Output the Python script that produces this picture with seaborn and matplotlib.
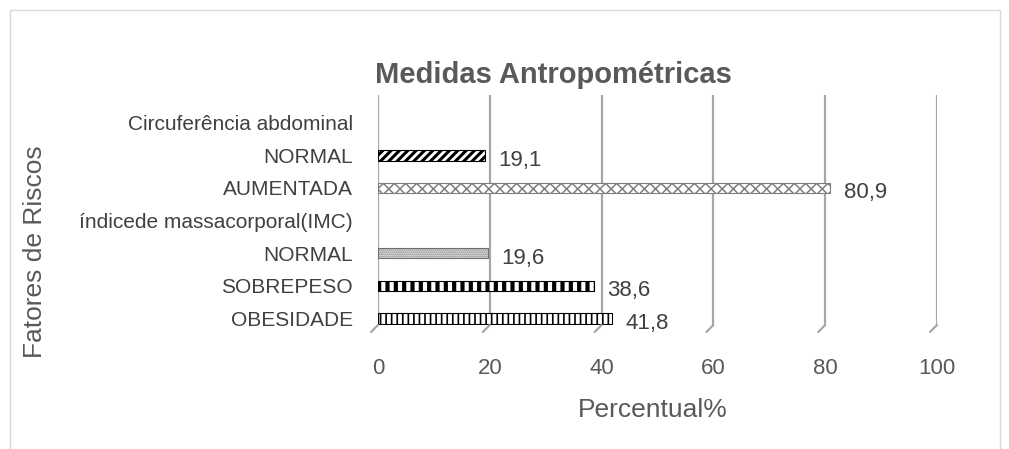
import matplotlib
matplotlib.use("Agg")
import matplotlib.pyplot as plt
from matplotlib.patches import Rectangle
import seaborn as sns
import pandas as pd

# rows from top to bottom; header rows have no bar
row_keys = ["abd", "abd_normal", "abd_aumentada", "imc", "imc_normal", "imc_sobrepeso", "imc_obesidade"]
row_labels = ["Circuferência abdominal", "NORMAL", "AUMENTADA", "índicede massacorporal(IMC)",
              "NORMAL", "SOBREPESO", "OBESIDADE"]
bar_keys = ["abd_normal", "abd_aumentada", "imc_normal", "imc_sobrepeso", "imc_obesidade"]
bar_values = [19.1, 80.9, 19.6, 38.6, 41.8]
value_labels = ["19,1", "80,9", "19,6", "38,6", "41,8"]
x_ticks = [0, 20, 40, 60, 80, 100]

sns.set_style("white")
plt.rcParams["font.family"] = ["Liberation Sans", "DejaVu Sans"]
plt.rcParams["hatch.linewidth"] = 1.6

df = pd.DataFrame({"key": bar_keys, "valor": bar_values})

fig = plt.figure(figsize=(10.09, 4.49), dpi=100)
ax = fig.add_axes([378 / 1009, 1 - 325 / 449, 559 / 1009, 230 / 449])

sns.barplot(data=df, x="valor", y="key", order=row_keys, color="white",
            width=0.32, ax=ax, zorder=3)

hatches = {"abd_normal": "////", "abd_aumentada": "xxx", "imc_normal": "........",
           "imc_sobrepeso": "||", "imc_obesidade": "|||"}
edges = {"abd_normal": "black", "abd_aumentada": "#7f7f7f", "imc_normal": "#6f6f6f",
         "imc_sobrepeso": "black", "imc_obesidade": "black"}
hatch_lw = {"abd_normal": 2.2, "abd_aumentada": 1.1, "imc_normal": 1.0,
            "imc_sobrepeso": 3.0, "imc_obesidade": 1.2}
for patch in ax.patches:
    idx = int(round(patch.get_y() + patch.get_height() / 2))
    key = row_keys[idx]
    if key in hatches:
        patch.set_hatch(hatches[key])
        patch.set_edgecolor(edges[key])
        patch.set_linewidth(0.8)
        patch.set_facecolor("white")
        if hasattr(patch, "set_hatch_linewidth"):
            patch.set_hatch_linewidth(hatch_lw[key])

for key, v, lab in zip(bar_keys, bar_values, value_labels):
    y = row_keys.index(key)
    ax.text(v + 2.4, y + 0.15, lab, va="center", ha="left", fontsize=16, color="#404040")

ax.set_xlim(0, 100)
ax.set_ylim(6.2, -0.85)
ax.set_xticks(x_ticks)
ax.set_xticklabels([str(t) for t in x_ticks], fontsize=16, color="#595959")
ax.set_yticks(range(len(row_labels)))
ax.set_yticklabels(row_labels, fontsize=15, color="#404040")
ax.tick_params(axis="x", length=0, pad=24)
ax.tick_params(axis="y", length=0, pad=18)
for s in ax.spines.values():
    s.set_visible(False)

# gridlines with the little 3D foot at the bottom
for t in x_ticks:
    ax.axvline(t, color="#a6a6a6", lw=1.6, zorder=1)
    ax.annotate("", xy=(t, 0), xycoords=ax.get_xaxis_transform(),
                xytext=(-5, -5), textcoords="offset points",
                arrowprops=dict(arrowstyle="-", color="#a6a6a6", lw=1.6,
                                shrinkA=0, shrinkB=0),
                annotation_clip=False)

ax.set_xlabel("")
ax.set_ylabel("")
fig.text(653 / 1009, 1 - 410 / 449, "Percentual%", fontsize=19,
         color="#595959", ha="center", va="center")
fig.text(35 / 1009, 1 - 252 / 449, "Fatores de Riscos", rotation=90, fontsize=19,
         color="#595959", ha="center", va="center")
fig.text(553 / 1009, 1 - 75 / 449, "Medidas Antropométricas", fontsize=21,
         fontweight="bold", color="#595959", ha="center", va="center")

fig.patches.append(Rectangle((10 / 1009, -0.1), 990 / 1009, 1 - 10 / 449 + 0.1,
                             transform=fig.transFigure, fill=False,
                             edgecolor="#d9d9d9", lw=1))

fig.savefig("out.png", dpi=100)
